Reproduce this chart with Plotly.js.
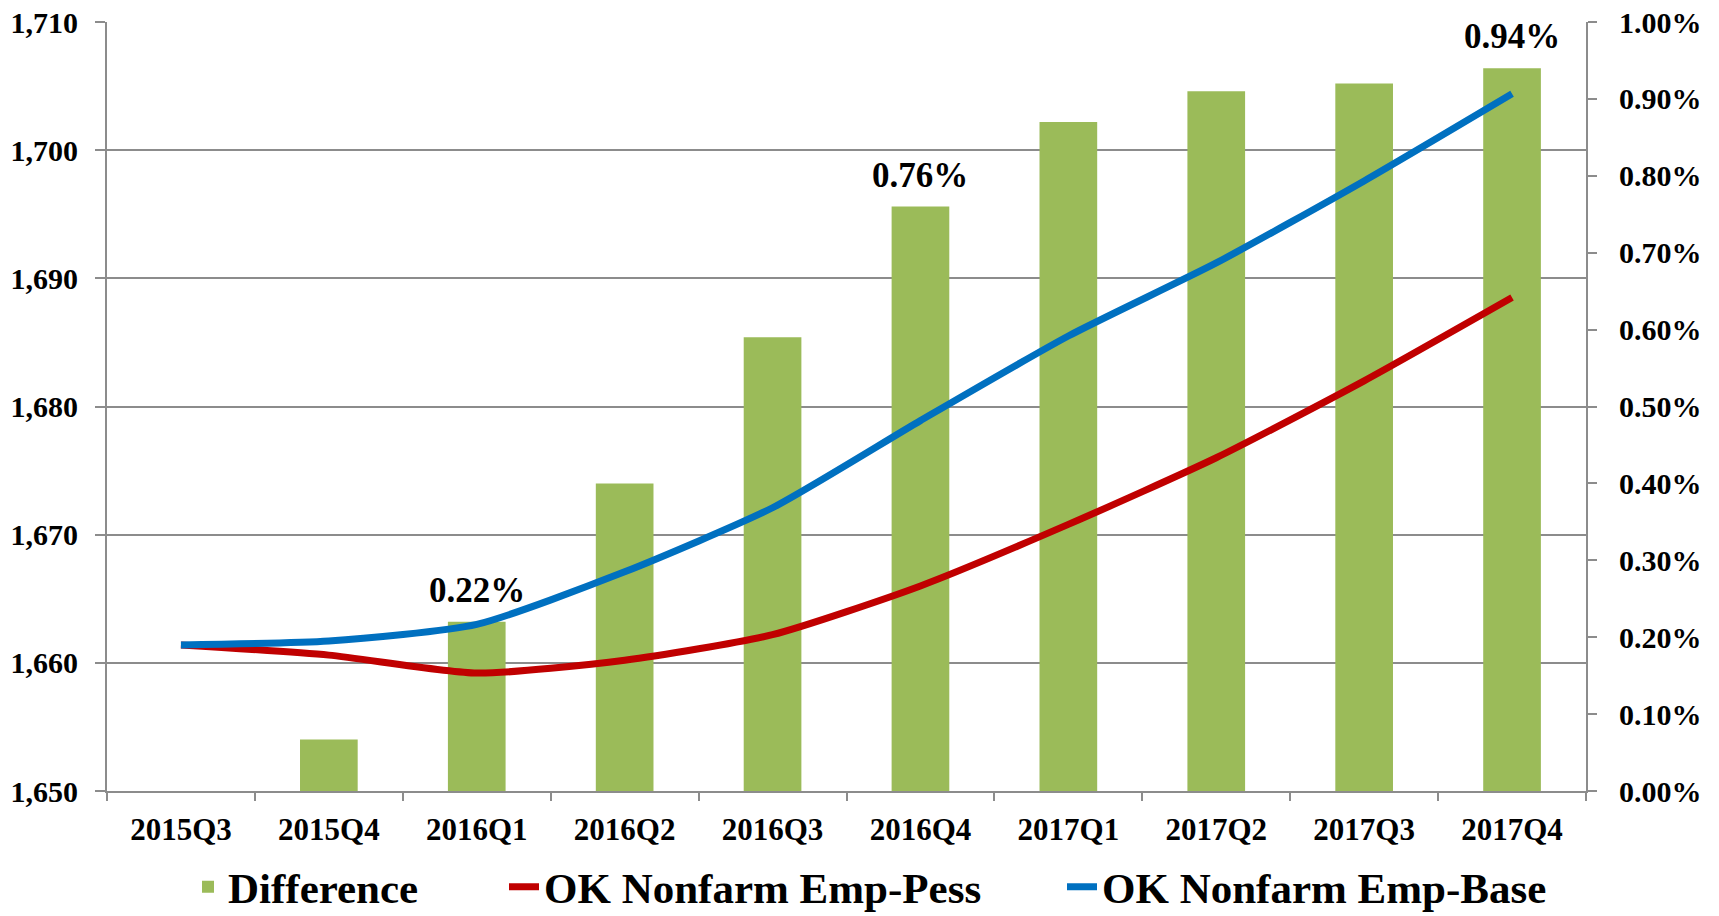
<!DOCTYPE html>
<html>
<head>
<meta charset="utf-8">
<script src="https://cdn.plot.ly/plotly-3.0.1.min.js"></script>
<style>html,body{margin:0;padding:0;background:#fff;}#chart{width:1719px;height:916px;}</style>
</head>
<body>
<div id="chart"></div>
<script>
const categories = ["2015Q3","2015Q4","2016Q1","2016Q2","2016Q3","2016Q4","2017Q1","2017Q2","2017Q3","2017Q4"];
const differencePct = [0.00, 0.067, 0.22, 0.40, 0.59, 0.76, 0.87, 0.91, 0.92, 0.94];
const empPess = [1661.4, 1660.6, 1659.2, 1660.2, 1662.2, 1666.0, 1670.8, 1676.0, 1682.0, 1688.5];
const empBase = [1661.4, 1661.7, 1663.0, 1667.1, 1672.1, 1678.9, 1685.5, 1691.2, 1697.6, 1704.4];
const labeledCategories = ["2016Q1","2016Q4","2017Q4"];
const leftTicks = [1650,1660,1670,1680,1690,1700,1710];
const rightTicks = [0,0.1,0.2,0.3,0.4,0.5,0.6,0.7,0.8,0.9,1.0];

const FONT = "Liberation Serif, Times New Roman, serif";
const GRAY = "#8c8c8c";

const traces = [
  {type:"bar", name:"Difference", x:categories, y:differencePct, yaxis:"y", legend:"legend",
   marker:{color:"#9BBB59"}, hoverinfo:"x+y"},
  {type:"scatter", mode:"lines", name:"OK Nonfarm Emp-Pess", x:categories, y:empPess, yaxis:"y2", legend:"legend2",
   line:{color:"#C00000", width:7, shape:"spline", smoothing:0.6}},
  {type:"scatter", mode:"lines", name:"OK Nonfarm Emp-Base", x:categories, y:empBase, yaxis:"y2", legend:"legend3",
   line:{color:"#0070C0", width:7, shape:"spline", smoothing:0.6}}
];

const annotations = labeledCategories.map(c => {
  const i = categories.indexOf(c);
  return {x:c, y:differencePct[i], xref:"x", yref:"y", yanchor:"bottom", yshift:10,
    text:differencePct[i].toFixed(2)+"%", showarrow:false,
    font:{family:FONT, size:35, color:"#000", weight:"bold"}};
});

function legendAt(px){
  return {orientation:"h", xref:"container", x:px/1719, xanchor:"left",
    yref:"container", y:0.032, yanchor:"middle", bgcolor:"rgba(0,0,0,0)",
    font:{family:FONT, size:43, color:"#000", weight:"bold"}, itemwidth:30};
}

const layout = {
  width:1719, height:916,
  margin:{l:107, r:133, t:22, b:125},
  paper_bgcolor:"#fff", plot_bgcolor:"#fff",
  font:{family:FONT, color:"#000", weight:"bold"},
  bargap:0.61,
  showlegend:true,
  legend:legendAt(188),
  legend2:legendAt(504),
  legend3:legendAt(1062),
  xaxis:{type:"category", tickson:"boundaries", ticks:"outside", ticklen:8, tickwidth:2, tickcolor:GRAY,
    showline:true, linecolor:GRAY, linewidth:2, showgrid:false,
    tickfont:{family:FONT, size:31, color:"#000", weight:"bold"}, ticklabelstandoff:10},
  yaxis:{side:"right", range:[0,1.0], tickvals:rightTicks, ticktext:rightTicks.map(v=>v.toFixed(2)+"%"),
    showgrid:false, zeroline:false, showline:true, linecolor:GRAY, linewidth:2,
    ticks:"outside", ticklen:9, tickwidth:2, tickcolor:GRAY,
    tickfont:{family:FONT, size:30, color:"#000", weight:"bold"}, ticklabelstandoff:16},
  yaxis2:{overlaying:"y", side:"left", range:[1650,1710], tickvals:leftTicks,
    tickformat:",d", showgrid:true, gridcolor:GRAY, gridwidth:2, zeroline:false,
    showline:true, linecolor:GRAY, linewidth:2,
    ticks:"outside", ticklen:10, tickwidth:2, tickcolor:GRAY,
    tickfont:{family:FONT, size:30, color:"#000", weight:"bold"}, ticklabelstandoff:11},
  annotations:annotations
};

Plotly.newPlot("chart", traces, layout, {displayModeBar:false, staticPlot:true});
</script>
</body>
</html>
